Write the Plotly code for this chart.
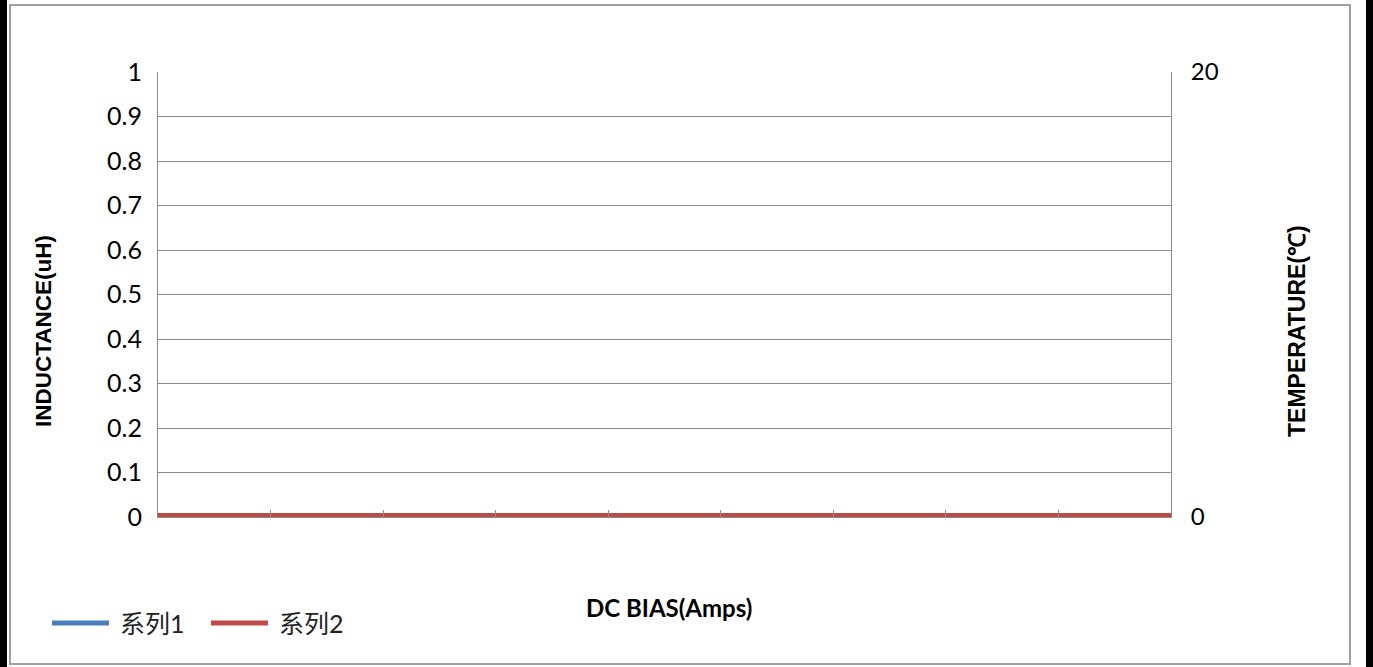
import plotly.graph_objects as go

# ---- data ----
categories = list(range(10))          # 10 unlabeled category positions
inductance = [0, 0, 0, 0, 0, 0, 0, 0, 0, 0]   # 系列1
temperature = [0, 0, 0, 0, 0, 0, 0, 0, 0, 0]  # 系列2
series_names = ["系列1", "系列2"]
series_colors = ["#4A7EBB", "#BE4B48"]
left_ticks = [0, 0.1, 0.2, 0.3, 0.4, 0.5, 0.6, 0.7, 0.8, 0.9, 1]
left_tick_text = ["0", "0.1", "0.2", "0.3", "0.4", "0.5", "0.6", "0.7", "0.8", "0.9", "1"]
right_ticks = [0, 20]

W, H = 1373, 667
L, R, T, B = 158, 1171, 72, 517  # plot area in pixels

def px(x):
    return (x - L) / (R - L)

def py(y):
    return (B - y) / (B - T)

fig = go.Figure()
fig.add_trace(go.Scatter(x=categories, y=inductance, mode="lines", name=series_names[0],
                         line=dict(color=series_colors[0], width=8), yaxis="y", showlegend=False))
fig.add_trace(go.Scatter(x=categories, y=temperature, mode="lines", name=series_names[1],
                         line=dict(color=series_colors[1], width=8), yaxis="y2", showlegend=False))

grid = "#8C8C8C"
fig.update_layout(
    width=W, height=H,
    margin=dict(l=L, r=W - R, t=T, b=H - B),
    paper_bgcolor="white", plot_bgcolor="white",
    font=dict(family="Lato, Noto Sans CJK SC, sans-serif", size=25, color="black"),
    xaxis=dict(range=[0, 9], tickvals=categories, ticktext=[""] * len(categories),
               ticks="inside", ticklen=7, tickcolor=grid, showgrid=False,
               showline=True, linecolor=grid, linewidth=1, zeroline=False, fixedrange=True),
    yaxis=dict(range=[0, 1], tickvals=left_ticks, ticktext=left_tick_text,
               showgrid=True, gridcolor=grid, gridwidth=1, showline=True, linecolor=grid,
               ticks="", zeroline=False, ticklabelstandoff=10),
    yaxis2=dict(range=[0, 20], tickvals=right_ticks, overlaying="y", side="right",
                showgrid=False, showline=True, linecolor=grid, ticks="", zeroline=False,
                ticklabelstandoff=14, tickfont=dict(size=24)),
    showlegend=False,
)

# frame: outer gray rectangle + black side bars
fig.add_shape(type="rect", xref="paper", yref="paper",
              x0=px(10), x1=px(1350), y0=py(664), y1=py(5),
              line=dict(color="#A0A0A0", width=2), fillcolor="rgba(0,0,0,0)", layer="below")
fig.add_shape(type="rect", xref="paper", yref="paper",
              x0=px(0), x1=px(7), y0=py(667), y1=py(0),
              line=dict(width=0), fillcolor="black")
fig.add_shape(type="rect", xref="paper", yref="paper",
              x0=px(1366), x1=px(1373), y0=py(667), y1=py(0),
              line=dict(width=0), fillcolor="black")

# axis titles
fig.add_annotation(text="<b>INDUCTANCE(uH)</b>", xref="paper", yref="paper",
                   x=px(43), y=py(331), textangle=-90, showarrow=False,
                   xanchor="center", yanchor="middle",
                   font=dict(family="Liberation Sans, Arial", size=22.5, color="black"))
fig.add_annotation(text="<b>TEMPERATURE(℃)</b>", xref="paper", yref="paper",
                   x=px(1297), y=py(331), textangle=-90, showarrow=False,
                   xanchor="center", yanchor="middle",
                   font=dict(family="Liberation Sans, Arial", size=23, color="black"))
fig.add_annotation(text="<b>DC BIAS(Amps)</b>", xref="paper", yref="paper",
                   x=px(669), y=py(607), showarrow=False,
                   xanchor="center", yanchor="middle",
                   font=dict(family="Lato", size=24, color="black"))

# legend (manual)
leg = [(52, 109, 118), (211, 268, 277)]
for (x0, x1, tx), name, col in zip(leg, series_names, series_colors):
    fig.add_shape(type="line", xref="paper", yref="paper",
                  x0=px(x0), x1=px(x1), y0=py(623), y1=py(623),
                  line=dict(color=col, width=5))
    fig.add_annotation(text=name, xref="paper", yref="paper", x=px(tx), y=py(623),
                       xanchor="left", yanchor="middle", showarrow=False,
                       font=dict(family="Lato, Noto Sans CJK SC", size=25, color="#222222"))

fig.write_html("out.html", config={"displayModeBar": False},
               post_script="document.body.style.margin='0';document.body.style.overflow='hidden';")
